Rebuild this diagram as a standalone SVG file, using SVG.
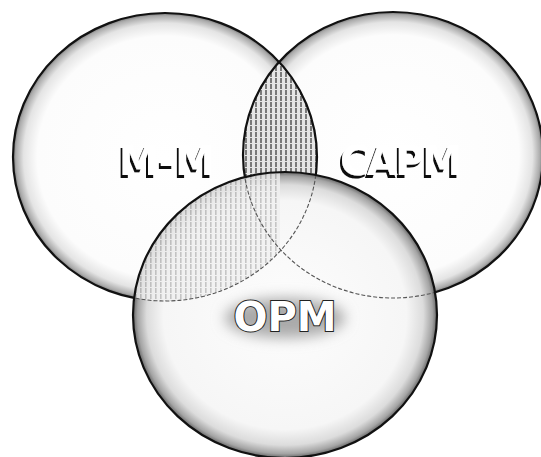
<svg xmlns="http://www.w3.org/2000/svg" width="541" height="457" viewBox="0 0 541 457">
<style>
.edge{fill:none;stroke:#111;stroke-width:2.2}
.inner{fill:none;stroke:#555;stroke-width:1.1;stroke-dasharray:4 2}
.lbl{font-family:"DejaVu Sans",Verdana,sans-serif;font-weight:bold;font-size:40px;text-anchor:middle}
</style>
<defs>
<radialGradient id="gball" cx="0.5" cy="0.5" r="0.5">
<stop offset="0" stop-color="#ffffff"/>
<stop offset="0.84" stop-color="#fcfcfc"/>
<stop offset="0.93" stop-color="#e4e4e4"/>
<stop offset="0.98" stop-color="#ababab"/>
<stop offset="1" stop-color="#777"/>
</radialGradient>
<radialGradient id="gopm" cx="0.5" cy="0.5" r="0.5">
<stop offset="0" stop-color="#fdfdfd"/>
<stop offset="0.8" stop-color="#f6f6f6"/>
<stop offset="0.91" stop-color="#dcdcdc"/>
<stop offset="0.97" stop-color="#a4a4a4"/>
<stop offset="1" stop-color="#666"/>
</radialGradient>
<pattern id="stripes" width="5" height="6" patternUnits="userSpaceOnUse">
<rect width="5" height="6" fill="#e6e6e6"/>
<rect x="0" width="2" height="5" fill="#7a7a7a"/>
</pattern>
<pattern id="stripesLight" width="5" height="6" patternUnits="userSpaceOnUse">
<rect width="5" height="6" fill="#f0f0f0"/>
<rect x="0" width="1.6" height="5" fill="#b8b8b8"/>
</pattern>
<clipPath id="clipL"><ellipse cx="165" cy="157" rx="152" ry="144"/></clipPath>
<clipPath id="clipR"><ellipse cx="393" cy="155" rx="150" ry="143"/></clipPath>
<clipPath id="clipO"><ellipse cx="285" cy="315" rx="152" ry="143"/></clipPath>
<filter id="glow" x="-30%" y="-50%" width="160%" height="200%">
<feGaussianBlur stdDeviation="7"/>
</filter>
<filter id="drop" x="-10%" y="-20%" width="120%" height="140%">
<feFlood flood-color="#111"/>
<feComposite in2="SourceAlpha" operator="in"/>
<feOffset dx="-2.5" dy="2.5" result="sh"/>
<feMerge><feMergeNode in="sh"/><feMergeNode in="SourceGraphic"/></feMerge>
</filter>
</defs>

<g id="node-mm">
<ellipse cx="165" cy="157" rx="152" ry="144" fill="url(#gball)"/>
</g>
<g id="node-capm">
<ellipse cx="393" cy="155" rx="150" ry="143" fill="url(#gball)"/>
</g>

<g id="overlap-mm-capm" clip-path="url(#clipL)">
<rect x="230" y="40" width="110" height="200" fill="url(#stripes)" clip-path="url(#clipR)"/>
</g>

<g id="outlines">
<ellipse class="edge" cx="165" cy="157" rx="152" ry="144"/>
<ellipse class="edge" cx="393" cy="155" rx="150" ry="143"/>
</g>

<g id="node-opm">
<ellipse cx="285" cy="315" rx="152" ry="143" fill="url(#gopm)"/>
<g clip-path="url(#clipO)">
<g clip-path="url(#clipL)">
<rect x="130" y="170" width="150" height="140" fill="url(#stripesLight)" opacity="0.8"/>
</g>
<ellipse class="inner" cx="165" cy="157" rx="152" ry="144"/>
<ellipse class="inner" cx="393" cy="155" rx="150" ry="143"/>
</g>
<ellipse class="edge" cx="285" cy="315" rx="152" ry="143"/>
</g>

<g id="connectors"></g>

<g id="labels">
<text id="label-mm" class="lbl" x="167" y="175" fill="#fff" filter="url(#drop)">M-M</text>
<text id="label-capm" class="lbl" x="401" y="175" fill="#fff" textLength="122" filter="url(#drop)">CAPM</text>
<g id="label-opm">
<ellipse cx="285" cy="318" rx="60" ry="20" fill="#aaa" filter="url(#glow)"/>
<text class="lbl" x="285" y="331" fill="#fff" stroke="#222" stroke-width="2" paint-order="stroke">OPM</text>
</g>
</g>
</svg>
